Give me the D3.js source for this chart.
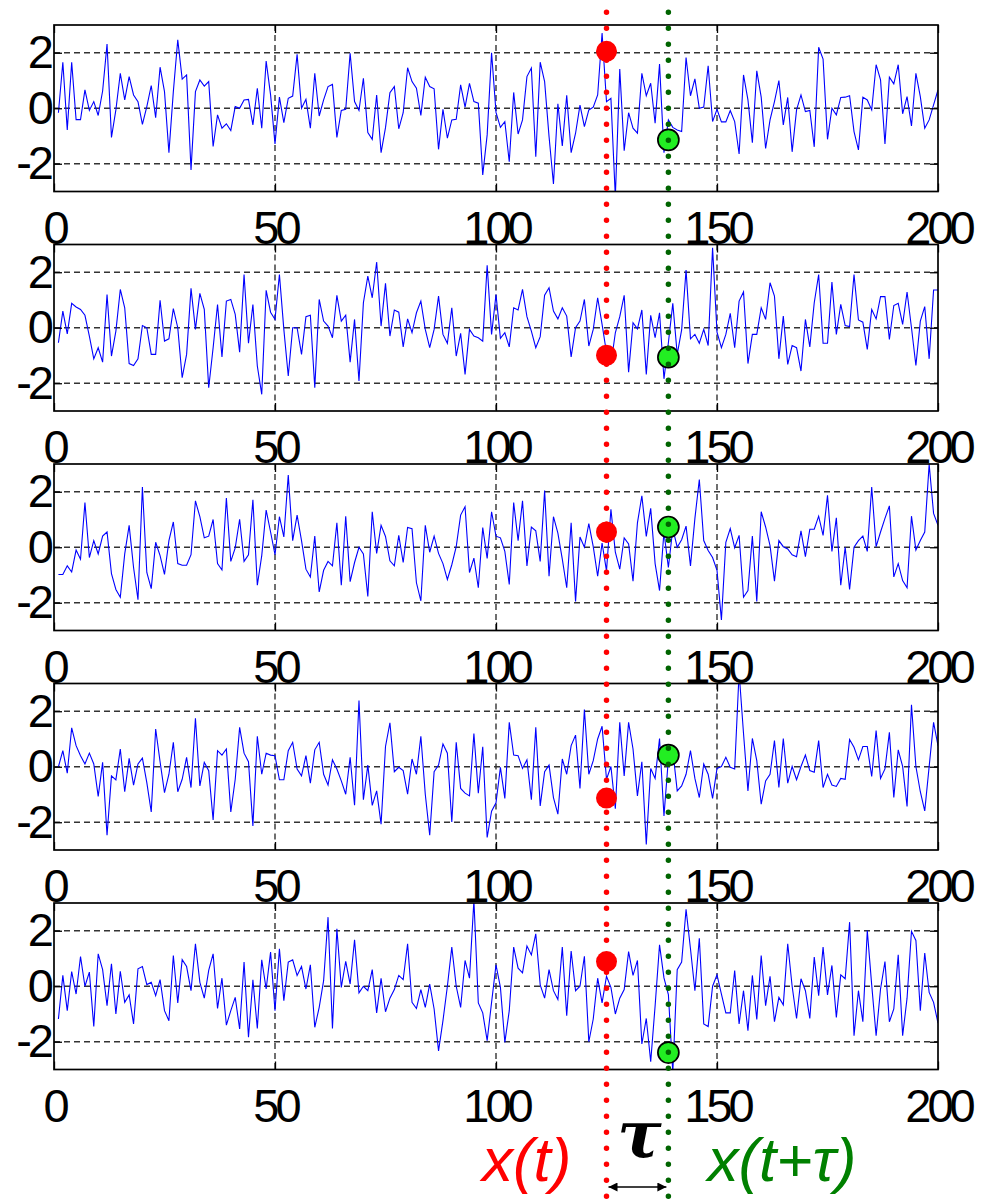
<!DOCTYPE html>
<html>
<head>
<meta charset="utf-8">
<script src="https://cdn.jsdelivr.net/npm/d3@7"></script>
<style>
  body { margin: 0; background: #fff; }
  text { font-family: "Liberation Sans", Arial, sans-serif; }
</style>
</head>
<body>
<svg width="987" height="1200"></svg>
<script>
// five noisy realisations, samples 1..200
const s1 = [-0.16,1.66,-0.78,1.66,-0.41,-0.41,0.66,-0.08,0.24,-0.26,
  0.62,2.31,-1.05,-0.06,1.26,0.3,1.14,0.48,0.24,-0.58,
  0.06,0.82,-0.34,1.48,0.6,-1.6,0.6,2.47,1.05,1.2,
  -2.22,0.6,1.02,0.8,0.96,-1.38,-0.24,-0.72,-0.56,-0.8,
  0.06,0,0.3,0.32,-0.6,0.72,-0.72,1.7,0.48,-1.29,
  0.4,-0.52,0.36,0.44,1.94,0,0.32,-0.72,1.26,-0.28,
  0.3,0.78,0.86,-1.05,-0.08,-0.04,1.98,0.24,-0.08,1.08,
  -0.88,-1.12,0.48,-1.6,-0.7,0.56,0.78,-0.74,-0.16,1.46,
  0.96,0.72,-0.26,1.12,0.78,0.7,-1.48,-0.04,-1.08,-0.42,
  -0.4,0.84,0.04,0.9,0.24,0.18,-2.4,-0.96,2.0,-0.15,
  -0.69,-0.48,-1.93,0.57,-0.93,-0.42,1.14,1.45,-1.75,1.66,
  0.96,-1.02,-2.73,0.16,-1.36,0.47,-1.6,-0.9,0.11,-0.66,
  -0.06,0.04,0.48,2.71,0.24,0.36,-3.2,1.41,-1.53,-0.16,
  -0.72,-0.9,1.26,0.45,0.9,-0.54,1.59,-1.6,-0.42,-0.69,
  -0.78,-0.84,1.83,0.45,1.06,0,0.04,1.53,-0.48,-0.04,
  -0.49,-0.49,-0.08,-0.48,-1.65,1.2,0.3,-1.24,1.35,0.4,
  -1.45,-0.42,0.24,1.0,-0.6,0.39,-1.57,-0.06,0.48,-0.12,
  -0.08,-1.39,2.2,1.77,-1.12,0,-0.24,0.39,0.4,0.45,
  -0.84,-1.5,0.4,0.3,-0.06,1.57,1.02,-1.29,1.12,0.88,
  1.57,-0.2,0.42,-0.64,1.26,0.42,-0.72,-0.42,0.12,0.66];

const s2 = [-0.54,0.6,-0.22,0.88,0.75,0.66,0.45,-0.3,-1.12,-0.72,
  -1.24,1.2,-1.02,-0.12,1.38,0.72,-1.29,-1.36,-1.12,0.08,
  0,-0.96,-0.96,0.99,-0.48,-0.4,0.69,0,-1.8,-0.96,
  1.42,-0.06,1.24,0.66,-2.16,-0.72,0.84,-1.05,0.96,1.02,
  0.48,-0.88,1.92,-0.56,0.84,-1.38,-2.4,1.35,0.56,0.3,
  1.92,-0.06,-1.74,0,0,-0.96,0.4,0.45,-2.16,1.02,
  0.24,0.06,-0.36,1.17,0.24,0.45,-1.24,0.3,-1.92,0.9,
  1.86,1.08,2.37,0.06,1.6,-0.3,0.64,0.56,-0.69,0.32,
  -0.18,0.54,0.96,-0.06,-0.72,-0.06,1.14,-0.24,-0.56,0.72,
  -1.02,-0.2,-1.68,-0.06,-0.3,-0.36,-0.48,2.25,-0.24,1.2,
  -0.38,-0.18,-0.69,0.72,0.64,1.38,0.4,-0.12,-0.72,-0.32,
  1.17,1.44,0.6,0.32,0.72,0.42,-1.05,0,0.24,1.02,
  -0.66,-0.06,1.08,0.12,-0.9,-1.32,-0.18,0.4,1.17,-1.6,
  0.18,-0.04,0.64,-1.68,0.45,-0.36,0.54,-1.84,-0.54,0.88,
  -0.96,-0.08,2.08,-0.4,-0.24,-0.56,-0.06,-0.64,2.88,-0.16,
  -0.72,-0.24,0.52,-0.72,0.96,1.29,-1.29,-0.24,-0.24,0.72,
  0.3,1.62,1.14,-1.12,0.42,-1.32,-0.64,-0.72,-1.56,0.3,
  -0.69,0.9,1.92,-0.56,-0.56,1.65,-0.24,0.84,0.08,0.04,
  1.92,0.28,0.2,-0.78,0.66,0.32,1.12,1.12,-0.42,0.8,
  0.88,0.12,1.29,0,-1.36,0.24,0.76,-1.12,1.36,1.36];

const s3 = [-0.98,-0.98,-0.67,-0.89,-0.1,-0.43,1.61,-0.37,0.24,-0.24,
  0.4,0.55,-0.95,-1.52,-1.8,-0.24,0.79,-0.73,-1.89,2.17,
  -0.91,-1.49,0.18,-0.3,-0.98,0.24,0.91,-0.59,-0.65,-0.65,
  -0.27,1.67,1.1,0.34,0.4,1.0,-0.59,-0.82,1.77,-0.51,
  -0.02,1.01,-0.51,-0.27,1.71,-1.37,-0.3,1.34,0.55,-0.27,
  1.1,0.37,2.6,0.24,1.16,0.24,-0.79,-1.07,0.4,-1.61,
  -0.83,-0.51,-0.67,0.88,-1.37,1.12,-1.24,-0.55,0,-0.24,
  -1.77,1.28,-0.22,0.79,0.39,-0.49,-0.67,0.43,-0.55,0.71,
  0.67,-1.28,-1.93,0.79,-0.18,0.4,-0.22,-0.59,-1.16,-0.63,
  0.02,1.16,1.46,-0.91,-0.39,-1.46,0.71,-0.4,1.28,0.4,
  0.34,-0.15,-1.34,1.61,0.24,1.67,-0.67,0.73,0.59,-0.51,
  2.04,-1.04,1.1,0.51,-0.43,-1.46,0.88,-1.95,0.37,0,
  0.85,0.02,-1.04,0.15,-0.85,1.37,-0.18,-0.79,0.34,0.12,
  -1.22,0.88,1.85,0.39,1.4,-0.59,-1.56,0.55,-0.73,0.67,
  0,0.27,0.76,-0.67,1.04,2.44,0.24,-0.12,-0.37,-0.83,
  -2.62,0.18,0.67,-0.02,0.43,-1.8,-1.56,0.4,-1.95,1.28,
  0.73,0.06,-1.22,0.24,0.02,-0.06,-0.27,-0.34,0.59,-0.34,
  0.65,0.65,1.12,0.43,1.87,-0.15,1.06,-1.37,0,-1.52,
  0,0.24,0.4,-0.15,2.17,0.02,0.55,1.04,1.49,-1.07,
  -0.59,-1.2,-1.46,1.12,-0.1,0.24,0.55,2.99,1.22,0.79];

const s4 = [0,0.58,-0.23,1.4,0.76,0.4,0.1,0.49,0.1,-1.07,
  0.16,-2.47,-0.33,-0.47,0.64,-0.9,0.3,-0.66,0.1,0.31,
  -0.57,-1.63,1.36,0.18,-0.93,-0.27,0.88,-0.9,-0.45,0.34,
  -0.75,1.75,-0.69,0.16,-0.14,-1.92,0.58,0.42,0.64,-1.63,
  -0.45,1.42,0.49,0.18,-2.13,1.1,-0.27,0.49,0.42,0.4,
  -0.47,-0.47,0.58,0.88,-0.08,-0.33,0.4,-0.59,0.61,0.88,
  -0.27,-0.66,0.25,-0.08,-0.51,-0.99,0.34,-1.39,2.39,-1.19,
  0.06,-1.39,-0.87,-2.07,0.73,1.58,-0.18,-0.02,-0.14,-0.99,
  0.28,-0.27,1.1,-0.99,-2.47,-0.18,0.06,0.82,0.49,-1.99,
  0.88,-0.78,-0.95,-1.05,1.2,-0.95,0.72,-2.55,-1.6,-1.3,
  -0.02,-1.14,1.6,0.42,0.4,-0.06,0.25,-1.19,1.42,-1.41,
  -0.18,0.06,-1.11,-1.71,0.28,-0.27,0.76,1.14,-0.78,2.06,
  -0.27,0.22,1.0,1.46,-0.45,0.01,-1.51,1.6,-0.33,1.6,
  0.64,-1.05,0.18,-2.8,-0.06,-0.42,1.02,-1.77,0.28,0.58,
  -0.87,-0.69,-0.27,0.58,-0.42,-1.11,0.1,-0.27,-1.14,-0.06,
  0.01,0.34,-0.02,-0.08,3.4,1.2,-0.87,1.02,0.22,-1.35,
  -0.51,-0.27,0.94,-0.75,1.02,-0.59,0.01,-0.47,0.01,0.42,
  -0.14,-0.2,0.94,-0.75,-0.27,-0.66,-0.71,-0.42,-0.45,0.98,
  0.7,0.25,0.73,0.73,-0.35,1.3,-0.42,-0.08,1.24,-1.11,
  0.61,0.01,-1.43,2.23,0.01,-0.9,-1.59,0.01,1.6,0.76];

const s5 = [-1.18,0.39,-0.88,0.53,-0.28,1.07,0,0.51,-1.45,1.17,
  0.6,-0.7,0.81,-1.0,0.54,-0.58,-0.31,-1.36,0.63,0.71,
  0.06,0.14,-0.34,0.24,-0.88,-1.24,1.11,-0.6,0.96,0.71,
  -0.16,1.53,0.14,-0.43,0.57,1.17,-0.8,0.29,-1.4,-0.88,
  -0.4,-1.54,0.87,-1.84,0.23,-1.52,0.95,-0.1,1.23,-0.88,
  1.35,-0.52,0.87,0.95,0.39,0.71,-0.1,0.77,-1.48,-0.76,
  0.2,2.49,-1.52,2.07,-0.04,0.9,0.08,1.67,-0.24,0,
  -0.16,0.6,-0.96,0.29,-0.92,-0.43,-0.12,0.39,0.24,1.53,
  -0.58,-0.8,-0.12,-0.76,0.08,-0.82,-2.33,-1.24,0,1.41,
  0,-0.76,0.93,0.29,3.1,-0.6,-0.96,-1.96,-0.58,0.77,
  -0.04,-2.02,-0.88,1.41,0.65,0.48,1.45,1.13,1.89,0.05,
  -0.43,0.6,-0.16,-0.48,1.41,-1.06,1.27,-0.16,0,1.08,
  -2.0,-1.18,0.29,-0.6,0.36,-0.04,-1.0,-0.43,-0.12,1.25,
  0.39,0.93,-2.08,-1.16,-2.72,-0.7,1.49,0.3,-0.3,-3.1,
  0.6,0.87,2.77,1.35,-0.16,1.73,-1.36,-1.45,0,0.41,
  -0.28,-0.96,-0.96,0.57,-1.36,-0.16,-1.6,0.39,-1.2,1.11,
  -0.7,0.36,-1.28,-0.4,-0.67,1.53,0,-1.16,0.27,-0.16,
  -1.16,1.05,-0.34,1.41,-0.31,0.75,-1.12,0.41,0.27,2.31,
  -1.78,-0.16,-1.28,2.01,0.05,-1.78,-0.1,0.89,-1.28,-0.82,
  1.13,-1.78,-0.43,1.98,1.65,-0.88,1.2,-0.22,-0.58,-1.33];

const series = [s1, s2, s3, s4, s5];

// the two sampled instants and the marker values
const tIndex = 125;
const lagIndex = 139;
const redVals = [2.05, -0.99, 0.55, -1.13, 0.89];
const greenVals = [-1.14, -1.06, 0.73, 0.42, -2.39];

const xTicks = [0, 50, 100, 150, 200];
const yTicks = [-2, 0, 2];

// The svg
const svg = d3.select("svg"),
    width = +svg.attr("width"),
    height = +svg.attr("height");

const panelTop = 25, panelStep = 219.5, panelH = 166.5;

const x = d3.scaleLinear().domain([0, 200]).range([54, 938]);
const y = d3.scaleLinear().domain([-3, 3]).range([panelH, 0]);

const line = d3.line()
    .x((d, i) => x(i + 1))
    .y(d => y(d));

series.forEach(function (data, k) {
    const g = svg.append("g")
        .attr("transform", `translate(0,${panelTop + k * panelStep})`);

    g.append("clipPath").attr("id", "clip" + k)
        .append("rect")
        .attr("x", x(0)).attr("y", 0)
        .attr("width", x(200) - x(0)).attr("height", panelH);

    // dashed grid
    g.selectAll(".vg").data(xTicks.slice(1, -1)).join("line")
        .attr("x1", d => x(d)).attr("x2", d => x(d))
        .attr("y1", 0).attr("y2", panelH)
        .attr("stroke", "#333").attr("stroke-width", 1.4)
        .attr("stroke-dasharray", "6,4");
    g.selectAll(".hg").data(yTicks).join("line")
        .attr("x1", x(0)).attr("x2", x(200))
        .attr("y1", d => y(d)).attr("y2", d => y(d))
        .attr("stroke", "#333").attr("stroke-width", 1.4)
        .attr("stroke-dasharray", "6,4");

    // the signal
    g.append("path")
        .datum(data)
        .attr("clip-path", `url(#clip${k})`)
        .attr("fill", "none")
        .attr("stroke", "#0000ff")
        .attr("stroke-width", 1.1)
        .attr("d", line);

    // axes with inward ticks (matlab style box)
    const xb = g.append("g").attr("transform", `translate(0,${panelH})`)
        .call(d3.axisBottom(x).tickValues(xTicks).tickFormat(d3.format("d"))
            .tickSize(-8).tickPadding(19));
    const xt = g.append("g")
        .call(d3.axisTop(x).tickValues(xTicks).tickFormat("").tickSize(-8));
    const yl = g.append("g").attr("transform", `translate(${x(0)},0)`)
        .call(d3.axisLeft(y).tickValues(yTicks).tickFormat(d => d)
            .tickSize(-8).tickPadding(4));
    const yr = g.append("g").attr("transform", `translate(${x(200)},0)`)
        .call(d3.axisRight(y).tickValues(yTicks).tickFormat("").tickSize(-8));
    [xb, xt, yl, yr].forEach(a => {
        a.select(".domain").remove();
        a.selectAll("line").attr("stroke", "#000").attr("stroke-width", 1.3);
        a.selectAll("text")
            .attr("fill", "#000")
            .style("font-family", "'Liberation Sans', Arial, sans-serif")
            .style("font-size", "47px")
            .style("letter-spacing", "-4px");
    });

    g.append("rect")
        .attr("x", x(0)).attr("y", 0)
        .attr("width", x(200) - x(0)).attr("height", panelH)
        .attr("fill", "none").attr("stroke", "#000").attr("stroke-width", 1.7);

    // x(t) and x(t+tau) markers
    g.append("circle")
        .attr("cx", x(tIndex)).attr("cy", y(redVals[k])).attr("r", 10.5)
        .attr("fill", "#ff0000");
    g.append("circle")
        .attr("cx", x(lagIndex)).attr("cy", y(greenVals[k])).attr("r", 10.5)
        .attr("fill", "#22ee22").attr("stroke", "#000").attr("stroke-width", 1.7);
});

// dotted vertical guides through every panel
[[tIndex, "#ff0000"], [lagIndex, "#006400"]].forEach(function ([t, c]) {
    svg.append("line")
        .attr("x1", x(t)).attr("x2", x(t))
        .attr("y1", -3.7).attr("y2", height)
        .attr("stroke", c).attr("stroke-width", 5.5)
        .attr("stroke-linecap", "round")
        .attr("stroke-dasharray", "0,16");
});

// annotation
svg.append("defs").selectAll("marker").data(["a1", "a2"]).join("marker")
    .attr("id", d => d)
    .attr("viewBox", "0 0 10 10").attr("refX", 10).attr("refY", 5)
    .attr("markerWidth", 11).attr("markerHeight", 9)
    .attr("markerUnits", "userSpaceOnUse")
    .attr("orient", "auto-start-reverse")
    .append("path").attr("d", "M0,0L10,5L0,10z").attr("fill", "#000");

svg.append("line")
    .attr("x1", x(tIndex) + 2).attr("x2", x(lagIndex) - 2)
    .attr("y1", 1187).attr("y2", 1187)
    .attr("stroke", "#000").attr("stroke-width", 1.6)
    .attr("marker-start", "url(#a1)").attr("marker-end", "url(#a2)");

svg.append("text")
    .attr("x", x(tIndex) - 35).attr("y", 1181)
    .attr("text-anchor", "end")
    .style("font-style", "italic").style("font-size", "62px")
    .attr("fill", "#ff0000")
    .text("x(t)");

svg.append("text")
    .attr("x", x(lagIndex) + 39).attr("y", 1181)
    .style("font-style", "italic").style("font-size", "62px")
    .attr("fill", "#008000")
    .text("x(t+τ)");

svg.append("text")
    .attr("x", (x(tIndex) + x(lagIndex)) / 2 + 2).attr("y", 1157)
    .attr("text-anchor", "middle")
    .style("font-family", "'DejaVu Serif', serif")
    .style("font-style", "italic").style("font-weight", "bold")
    .style("font-size", "66px")
    .attr("fill", "#000")
    .text("τ");
</script>
</body>
</html>
